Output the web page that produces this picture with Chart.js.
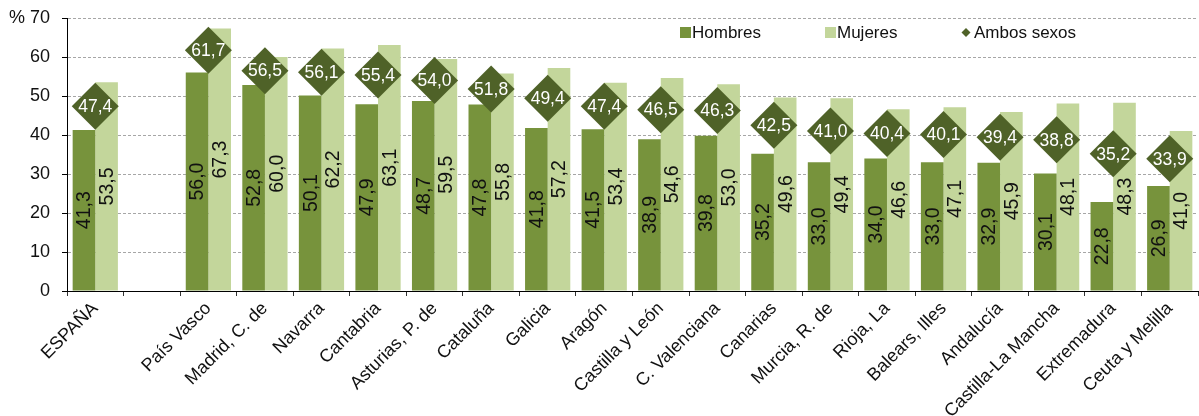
<!DOCTYPE html>
<html>
<head>
<meta charset="utf-8">
<script src="https://cdn.jsdelivr.net/npm/chart.js@4.4.1/dist/chart.umd.min.js"></script>
<style>
html,body{margin:0;padding:0;background:#fff;}
#wrap{width:1199px;height:416px;position:relative;}
</style>
</head>
<body>
<div id="wrap"><canvas id="c" width="1199" height="416"></canvas></div>
<script>
const categories = ['ESPAÑA', '', 'País Vasco', 'Madrid, C. de', 'Navarra', 'Cantabria', 'Asturias, P. de', 'Cataluña', 'Galicia', 'Aragón', 'Castilla y León', 'C. Valenciana', 'Canarias', 'Murcia, R. de', 'Rioja, La', 'Balears, Illes', 'Andalucía', 'Castilla-La Mancha', 'Extremadura', 'Ceuta y Melilla'];
const hombres = [41.3, null, 56.0, 52.8, 50.1, 47.9, 48.7, 47.8, 41.8, 41.5, 38.9, 39.8, 35.2, 33.0, 34.0, 33.0, 32.9, 30.1, 22.8, 26.9];
const mujeres = [53.5, null, 67.3, 60.0, 62.2, 63.1, 59.5, 55.8, 57.2, 53.4, 54.6, 53.0, 49.6, 49.4, 46.6, 47.1, 45.9, 48.1, 48.3, 41.0];
const ambos = [47.4, null, 61.7, 56.5, 56.1, 55.4, 54.0, 51.8, 49.4, 47.4, 46.5, 46.3, 42.5, 41.0, 40.4, 40.1, 39.4, 38.8, 35.2, 33.9];
const yTicks = [0, 10, 20, 30, 40, 50, 60, 70];
const seriesNames = ['Hombres', 'Mujeres', 'Ambos sexos'];

const C_H = '#77933C', C_M = '#C3D69B', C_A = '#4F6228';
const FONT = '"Liberation Sans", Arial, sans-serif';
const fmt = v => v.toFixed(1).replace('.', ',');

const labelPlugin = {
  id: 'labels',
  afterDatasetsDraw(chart) {
    const ctx = chart.ctx;
    ctx.save();
    [1, 2].forEach(di => {
      const meta = chart.getDatasetMeta(di);
      const data = chart.data.datasets[di].data;
      meta.data.forEach((bar, i) => {
        if (data[i] == null) return;
        const cy = (bar.y + bar.base) / 2;
        ctx.save();
        ctx.translate(bar.x, cy);
        ctx.rotate(-Math.PI / 2);
        ctx.font = '19.5px ' + FONT;
        ctx.fillStyle = '#111';
        ctx.textAlign = 'center';
        ctx.textBaseline = 'middle';
        ctx.fillText(fmt(data[i]), 0, 1);
        ctx.restore();
      });
    });
    const meta = chart.getDatasetMeta(0);
    const data = chart.data.datasets[0].data;
    meta.data.forEach((pt, i) => {
      if (data[i] == null) return;
      ctx.font = '17.5px ' + FONT;
      ctx.fillStyle = '#fff';
      ctx.textAlign = 'center';
      ctx.textBaseline = 'middle';
      ctx.fillText(fmt(data[i]), pt.x, pt.y + 1);
    });
    ctx.restore();
  },
  afterDraw(chart) {
    const ctx = chart.ctx;
    ctx.save();
    ctx.font = '17px ' + FONT;
    ctx.textBaseline = 'middle';
    ctx.textAlign = 'left';
    const y = 33;
    ctx.fillStyle = C_H; ctx.fillRect(680, 27, 11, 11);
    ctx.fillStyle = '#111'; ctx.fillText(seriesNames[0], 692, y);
    ctx.fillStyle = C_M; ctx.fillRect(825, 27, 11, 11);
    ctx.fillStyle = '#111'; ctx.fillText(seriesNames[1], 837, y);
    ctx.fillStyle = C_A;
    ctx.beginPath();
    ctx.moveTo(966, 28); ctx.lineTo(970.5, 32.5); ctx.lineTo(966, 37); ctx.lineTo(961.5, 32.5); ctx.closePath(); ctx.fill();
    ctx.fillStyle = '#111'; ctx.fillText(seriesNames[2], 974, y);
    ctx.restore();
  }
};

new Chart(document.getElementById('c'), {
  type: 'bar',
  data: {
    labels: categories,
    datasets: [
      { type: 'line', label: seriesNames[2], data: ambos, showLine: false, pointStyle: 'rectRot', pointRadius: 23.5, pointHoverRadius: 23.5, pointBackgroundColor: C_A, pointBorderWidth: 0, borderColor: C_A, order: 0 },
      { label: seriesNames[0], data: hombres, backgroundColor: C_H, barPercentage: 1.0, categoryPercentage: 0.8, order: 1 },
      { label: seriesNames[1], data: mujeres, backgroundColor: C_M, barPercentage: 1.0, categoryPercentage: 0.8, order: 1 }
    ]
  },
  options: {
    responsive: false,
    animation: false,
    layout: { autoPadding: false, padding: { top: 18, right: 1, left: 0, bottom: 0 } },
    plugins: { legend: { display: false }, tooltip: { enabled: false } },
    scales: {
      x: {
        afterFit(s) { s.height = 125; s.paddingRight = 0; s.paddingLeft = 0; },
        grid: { display: true, drawOnChartArea: false, drawTicks: true, tickLength: 5, color: '#333', offset: true },
        border: { display: true, color: '#000', dash: [3, 2], width: 1 },
        ticks: { autoSkip: false, maxRotation: 45, minRotation: 45, color: '#111', font: { size: 18, family: FONT }, padding: 2 }
      },
      y: {
        min: 0, max: 70,
        afterFit(s) { s.width = 67; s.paddingTop = 0; s.paddingBottom = 0; },
        afterBuildTicks(s) { s.ticks = yTicks.map(v => ({ value: v })); },
        grid: { color: '#A6A6A6', borderDash: [4, 3], tickColor: '#000', tickLength: 5, tickBorderDash: [] },
        border: { display: true, color: '#000', dash: [3, 2], width: 1 },
        ticks: { color: '#111', font: { size: 18, family: FONT }, padding: 12, callback: v => v === 70 ? '% 70' : String(v) }
      }
    }
  },
  plugins: [labelPlugin]
});
</script>
</body>
</html>
